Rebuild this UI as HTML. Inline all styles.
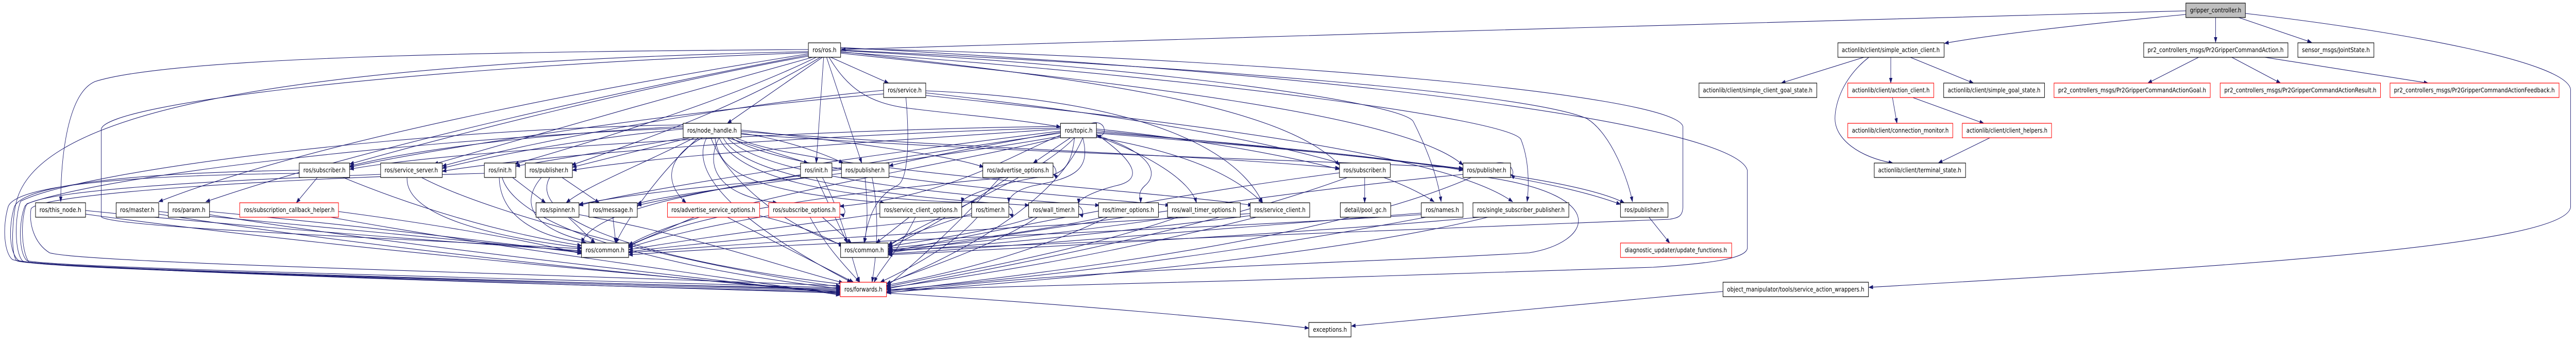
<!DOCTYPE html>
<html><head><meta charset="utf-8"><style>
html,body{margin:0;padding:0;background:#fff;width:100%;height:100%;overflow:hidden;}
svg{display:block;width:100vw;height:100vh;}
text{font-family:"DejaVu Sans","Liberation Sans",sans-serif;font-size:12px;fill:#000;}
.e{fill:none;stroke:#191970;stroke-width:1.1;}
</style></head><body>
<svg viewBox="0 0 6233 659" preserveAspectRatio="none" xmlns="http://www.w3.org/2000/svg">
<defs>
<marker id="a" markerWidth="11" markerHeight="8" refX="10" refY="4" orient="auto" markerUnits="userSpaceOnUse">
<path d="M0,0 L11,4 L0,8 z" fill="#191970"/></marker>
</defs>
<g class="e" marker-end="url(#a)">
<path d="M5289,21 C4500,40 3000,70 2036,96"/>
<path d="M5289,28 C5000,50 4800,70 4705,84"/>
<path d="M5361,34 L5361,82"/>
<path d="M5417,34 L5593,82"/>
<path d="M5433,26 C5800,60 6220,120 6220,175 L6220,400 C6220,480 5300,520 4522,557"/>
<path d="M1956,96 C1200,100 420,110 230,158 C165,180 147,300 147,391"/>
<path d="M1958,104 C1600,150 800,260 384,391"/>
<path d="M1960,106 C1600,160 900,280 498,391"/>
<path d="M1962,108 C1600,160 1100,260 846,318"/>
<path d="M1966,111 C1700,170 1300,260 1050,318"/>
<path d="M1975,111 C1800,180 1500,260 1245,318"/>
<path d="M1985,111 C1800,200 1600,260 1383,320"/>
<path d="M1990,111 L1760,239"/>
<path d="M1993,111 L1975,316"/>
<path d="M2000,111 L2085,316"/>
<path d="M2010,111 L2150,161"/>
<path d="M2006,111 C2050,170 2100,200 2200,210 C2350,225 2450,230 2566,246"/>
<path d="M2034,100 C2600,150 3100,200 3241,320"/>
<path d="M2034,103 C2700,160 3400,220 3540,320"/>
<path d="M2034,97 C2900,130 3700,180 3840,230 C3900,260 3940,350 3950,391"/>
<path d="M2034,98 C2800,130 3400,200 3420,236 C3460,300 3480,350 3487,391"/>
<path d="M2034,101 C2900,150 3650,230 3680,270 C3700,310 3700,360 3695,391"/>
<path d="M2034,94 C3000,110 4050,180 4072,245 L4072,400 C4072,420 4060,422 4040,425 C3600,440 2600,470 2150,485"/>
<path d="M2034,92 C3400,150 4200,250 4228,330 L4228,480 C4228,500 4150,510 4000,518 C3500,535 2700,550 2146,562"/>
<path d="M1956,100 C800,120 100,200 40,390 C30,420 25,490 40,505 C60,520 1200,545 2033,560"/>
<path d="M1956,102 C1000,130 260,200 245,250 L245,420 C260,440 900,460 1407,482"/>
<path d="M2138,175 C1800,200 1300,270 1070,322"/>
<path d="M2138,182 C1700,210 1100,280 846,324"/>
<path d="M2192,189 C2200,260 2200,350 2170,360 C2120,380 2100,420 2091,471"/>
<path d="M2240,176 C2800,195 3000,300 3055,393"/>
<path d="M2240,180 C2800,230 3300,300 3470,391"/>
<path d="M2240,185 C2900,240 3500,300 3660,391"/>
<path d="M1653,245 C1300,260 1000,290 846,322"/>
<path d="M1653,250 C1400,270 1200,300 1070,326"/>
<path d="M1660,267 L1248,322"/>
<path d="M1670,267 L1385,324"/>
<path d="M1680,267 C1550,320 1420,360 1370,393"/>
<path d="M1700,267 C1620,300 1600,350 1660,393"/>
<path d="M1740,267 C1700,330 1750,380 1880,393"/>
<path d="M1760,267 L1955,316"/>
<path d="M1793,258 C1900,270 2000,300 2040,316"/>
<path d="M1793,252 C2000,270 2300,300 2380,324"/>
<path d="M1730,267 C1740,330 1800,370 2140,393"/>
<path d="M1740,267 C1780,340 2000,385 2360,393"/>
<path d="M1750,267 C1800,350 2200,385 2490,398"/>
<path d="M1760,267 C1850,350 2400,385 2660,398"/>
<path d="M1770,267 C1900,340 2600,380 2830,398"/>
<path d="M1780,267 C1950,330 2800,370 3030,398"/>
<path d="M1793,255 C2400,290 2900,300 3241,326"/>
<path d="M1793,260 C2500,300 3200,310 3540,326"/>
<path d="M1690,267 C1600,330 1520,420 1490,471"/>
<path d="M1720,267 C1760,350 1900,440 2040,475"/>
<path d="M1710,267 C1650,360 1900,480 2060,547"/>
<path d="M1653,242 C1000,250 200,330 50,390 C35,420 35,490 55,506 C100,520 1300,545 2033,562"/>
<path d="M1653,248 C1000,270 250,340 65,395 C50,420 50,485 70,508 C120,522 1300,548 2033,564"/>
<path d="M2566,250 C2200,270 1600,300 1385,330"/>
<path d="M2566,256 C2400,280 2200,310 2151,322"/>
<path d="M2566,245 C2000,250 1100,290 846,328"/>
<path d="M2566,248 C2000,260 1300,300 1070,332"/>
<path d="M2590,267 L2500,316"/>
<path d="M2566,262 C2450,300 2300,380 2032,400"/>
<path d="M2600,267 C2590,330 2570,340 2500,345 C2400,360 2330,380 2327,393"/>
<path d="M2620,267 C2640,330 2600,345 2500,360 C2450,370 2441,385 2441,393"/>
<path d="M2653,260 C2760,320 2760,350 2700,360 C2650,370 2610,385 2610,395"/>
<path d="M2653,262 C2800,300 2800,340 2770,360 C2750,375 2760,385 2760,393"/>
<path d="M2653,264 C2780,300 2880,350 2895,393"/>
<path d="M2653,266 C2900,300 3000,350 3055,393"/>
<path d="M2653,250 C2900,270 3100,300 3241,328"/>
<path d="M2653,253 C3000,280 3400,310 3540,330"/>
<path d="M2653,256 C3200,290 3700,330 3921,396"/>
<path d="M2653,258 C3300,300 3800,340 3930,393"/>
<path d="M2566,266 C2300,320 1700,390 1521,475"/>
<path d="M2600,267 C2500,350 2250,420 2149,478"/>
<path d="M2620,267 C2550,400 2300,500 2145,550"/>
<path d="M2640,239 C2680,230 2680,270 2654,262"/>
<path d="M2566,258 C2200,300 1700,370 1542,398"/>
<path d="M2566,254 C2100,300 1600,360 1401,398"/>
<path d="M2566,264 C2100,330 1450,370 1407,471"/>
<path d="M768,344 L717,393"/>
<path d="M830,344 C1000,400 1200,450 1407,476"/>
<path d="M724,336 C300,340 40,360 20,400 C5,440 10,490 30,503 C80,520 1200,550 2033,566"/>
<path d="M724,330 C300,335 60,360 35,400 C20,440 22,490 45,505 C100,520 1200,548 2033,568"/>
<path d="M985,344 C980,420 1200,460 1407,480"/>
<path d="M1020,344 C1200,420 1700,520 2033,556"/>
<path d="M921,338 C500,350 80,370 60,400 C45,430 45,490 65,505 C120,520 1300,540 2033,558"/>
<path d="M1240,344 L1320,393"/>
<path d="M1208,344 C1210,420 1300,460 1420,471"/>
<path d="M1215,344 C1250,440 1600,520 2040,560"/>
<path d="M1172,336 C700,345 90,375 75,405 C70,430 80,470 120,490 C200,510 1300,530 2033,554"/>
<path d="M1360,344 L1450,393"/>
<path d="M1310,344 C1250,400 1300,450 1440,471"/>
<path d="M1330,344 C1270,430 1600,510 2050,552"/>
<path d="M1960,344 C1700,360 1500,380 1401,396"/>
<path d="M1975,344 L2050,471"/>
<path d="M1990,344 C2040,420 2060,500 2080,547"/>
<path d="M2036,336 C1800,360 1600,380 1542,395"/>
<path d="M2093,344 C2100,400 2100,440 2091,471"/>
<path d="M2110,344 C2130,420 2120,500 2110,547"/>
<path d="M2520,316 C2560,310 2560,345 2549,338"/>
<path d="M2440,344 C2300,420 2200,460 2149,482"/>
<path d="M2420,344 C2300,450 2200,520 2145,555"/>
<path d="M2548,336 C2200,360 1700,400 1521,478"/>
<path d="M3302,344 L3302,393"/>
<path d="M3241,335 C2800,380 2400,450 2149,488"/>
<path d="M3260,344 C2900,450 2400,520 2145,560"/>
<path d="M3620,316 C3665,310 3665,345 3656,338"/>
<path d="M3540,338 C3000,380 2500,450 2149,490"/>
<path d="M3560,344 C3200,470 2500,530 2145,565"/>
<path d="M3600,344 C3900,380 3850,470 3700,490 C3300,510 2600,520 2146,568"/>
<path d="M207,408 C600,440 1100,470 1407,486"/>
<path d="M207,415 C700,470 1500,530 2033,566"/>
<path d="M384,410 C800,440 1200,470 1407,488"/>
<path d="M384,415 C900,480 1500,530 2033,568"/>
<path d="M507,410 C900,440 1200,470 1407,490"/>
<path d="M507,416 C1000,480 1600,530 2033,570"/>
<path d="M819,410 C1100,440 1300,470 1407,492"/>
<path d="M800,421 C1200,480 1700,530 2033,572"/>
<path d="M1375,421 L1440,471"/>
<path d="M1401,416 C1700,460 1900,520 2040,548"/>
<path d="M1483,421 L1490,471"/>
<path d="M1680,421 L1521,476"/>
<path d="M1760,421 C1900,480 2000,520 2065,547"/>
<path d="M1838,418 C1950,440 2000,460 2040,478"/>
<path d="M2020,393 C2050,398 2050,420 2033,415"/>
<path d="M1990,421 L2060,471"/>
<path d="M1960,421 C2000,480 2050,520 2080,547"/>
<path d="M1860,418 C1700,440 1600,460 1521,480"/>
<path d="M2200,421 L2120,471"/>
<path d="M2215,421 C2180,480 2130,520 2115,547"/>
<path d="M2129,414 C1900,440 1700,460 1521,484"/>
<path d="M2420,393 C2455,398 2455,420 2442,415"/>
<path d="M2351,414 C2250,440 2180,460 2149,475"/>
<path d="M2365,421 C2300,480 2200,520 2130,547"/>
<path d="M2351,418 C2000,450 1700,470 1521,488"/>
<path d="M2590,393 C2625,398 2625,420 2611,415"/>
<path d="M2500,421 C2400,450 2200,470 2149,478"/>
<path d="M2510,421 C2400,480 2200,530 2145,550"/>
<path d="M2670,421 C2500,450 2300,470 2149,481"/>
<path d="M2680,421 C2500,490 2300,530 2145,553"/>
<path d="M2840,421 C2600,450 2300,475 2149,484"/>
<path d="M2850,421 C2600,490 2300,530 2145,556"/>
<path d="M3025,418 C2700,450 2400,475 2149,487"/>
<path d="M3040,421 C2700,490 2400,530 2145,558"/>
<path d="M3025,414 C2500,440 1900,465 1521,490"/>
<path d="M3439,413 C3000,440 2500,475 2149,492"/>
<path d="M3450,421 C3000,490 2500,540 2145,562"/>
<path d="M3439,416 C2800,450 1900,470 1521,494"/>
<path d="M3580,421 C3200,450 2500,480 2149,494"/>
<path d="M3600,421 C3200,500 2500,545 2145,567"/>
<path d="M3990,421 L4040,471"/>
<path d="M2145,568 C2600,590 3000,620 3167,636"/>
<path d="M4169,565 C3800,590 3400,620 3270,632"/>
<path d="M4510,111 L4310,161"/>
<path d="M4575,111 L4575,161"/>
<path d="M4622,111 L4775,161"/>
<path d="M4522,111 C4460,150 4440,200 4440,230 C4440,270 4500,305 4580,316"/>
<path d="M4579,189 L4590,239"/>
<path d="M4628,189 L4800,239"/>
<path d="M4815,267 L4690,316"/>
<path d="M5320,111 L5197,161"/>
<path d="M5400,111 L5518,161"/>
<path d="M5480,111 L5875,161"/>
</g>
<g stroke-width="1.2" fill="#fff">
<rect x="5289" y="6" width="144" height="28" fill="#bfbfbf" stroke="#000"/>
<rect x="1956" y="83" width="78" height="28" stroke="#000"/>
<rect x="4447" y="83" width="257" height="28" stroke="#000"/>
<rect x="5187" y="83" width="349" height="28" stroke="#000"/>
<rect x="5560" y="83" width="184" height="28" stroke="#000"/>
<rect x="2138" y="161" width="102" height="28" stroke="#000"/>
<rect x="4111" y="161" width="285" height="28" stroke="#000"/>
<rect x="4471" y="161" width="208" height="28" stroke="#f00"/>
<rect x="4703" y="161" width="244" height="28" stroke="#000"/>
<rect x="4970" y="161" width="378" height="28" stroke="#f00"/>
<rect x="5372" y="161" width="388" height="28" stroke="#f00"/>
<rect x="5783" y="161" width="409" height="28" stroke="#f00"/>
<rect x="1653" y="239" width="140" height="28" stroke="#000"/>
<rect x="2566" y="239" width="87" height="28" stroke="#000"/>
<rect x="4471" y="239" width="254" height="28" stroke="#f00"/>
<rect x="4748" y="239" width="216" height="28" stroke="#f00"/>
<rect x="724" y="316" width="122" height="28" stroke="#000"/>
<rect x="921" y="316" width="149" height="28" stroke="#000"/>
<rect x="1172" y="316" width="76" height="28" stroke="#000"/>
<rect x="1271" y="316" width="114" height="28" stroke="#000"/>
<rect x="1937" y="316" width="76" height="28" stroke="#000"/>
<rect x="2036" y="316" width="115" height="28" stroke="#000"/>
<rect x="2378" y="316" width="170" height="28" stroke="#000"/>
<rect x="3241" y="316" width="123" height="28" stroke="#000"/>
<rect x="3540" y="316" width="115" height="28" stroke="#000"/>
<rect x="4535" y="316" width="221" height="28" stroke="#000"/>
<rect x="86" y="393" width="121" height="28" stroke="#000"/>
<rect x="281" y="393" width="103" height="28" stroke="#000"/>
<rect x="407" y="393" width="100" height="28" stroke="#000"/>
<rect x="580" y="393" width="239" height="28" stroke="#f00"/>
<rect x="1297" y="393" width="104" height="28" stroke="#000"/>
<rect x="1425" y="393" width="117" height="28" stroke="#000"/>
<rect x="1615" y="393" width="223" height="28" stroke="#f00"/>
<rect x="1860" y="393" width="172" height="28" stroke="#f00"/>
<rect x="2129" y="393" width="198" height="28" stroke="#000"/>
<rect x="2351" y="393" width="90" height="28" stroke="#000"/>
<rect x="2489" y="393" width="121" height="28" stroke="#000"/>
<rect x="2658" y="393" width="145" height="28" stroke="#000"/>
<rect x="2825" y="393" width="176" height="28" stroke="#000"/>
<rect x="3025" y="393" width="144" height="28" stroke="#000"/>
<rect x="3243" y="393" width="122" height="28" stroke="#000"/>
<rect x="3439" y="393" width="101" height="28" stroke="#000"/>
<rect x="3564" y="393" width="232" height="28" stroke="#000"/>
<rect x="3921" y="393" width="115" height="28" stroke="#000"/>
<rect x="1407" y="471" width="114" height="28" stroke="#000"/>
<rect x="2034" y="471" width="115" height="28" stroke="#000"/>
<rect x="3921" y="471" width="269" height="28" stroke="#f00"/>
<rect x="2033" y="547" width="112" height="28" stroke="#f00"/>
<rect x="4169" y="547" width="352" height="28" stroke="#000"/>
<rect x="3167" y="625" width="102" height="28" stroke="#000"/>
</g>
<g text-anchor="middle">
<text x="5361" y="24" textLength="124" lengthAdjust="spacingAndGlyphs">gripper_controller.h</text>
<text x="1995" y="101" textLength="58" lengthAdjust="spacingAndGlyphs">ros/ros.h</text>
<text x="4575" y="101" textLength="237" lengthAdjust="spacingAndGlyphs">actionlib/client/simple_action_client.h</text>
<text x="5361" y="101" textLength="329" lengthAdjust="spacingAndGlyphs">pr2_controllers_msgs/Pr2GripperCommandAction.h</text>
<text x="5652" y="101" textLength="164" lengthAdjust="spacingAndGlyphs">sensor_msgs/JointState.h</text>
<text x="2189" y="179" textLength="82" lengthAdjust="spacingAndGlyphs">ros/service.h</text>
<text x="4253" y="179" textLength="265" lengthAdjust="spacingAndGlyphs">actionlib/client/simple_client_goal_state.h</text>
<text x="4575" y="179" textLength="188" lengthAdjust="spacingAndGlyphs">actionlib/client/action_client.h</text>
<text x="4825" y="179" textLength="224" lengthAdjust="spacingAndGlyphs">actionlib/client/simple_goal_state.h</text>
<text x="5159" y="179" textLength="358" lengthAdjust="spacingAndGlyphs">pr2_controllers_msgs/Pr2GripperCommandActionGoal.h</text>
<text x="5566" y="179" textLength="368" lengthAdjust="spacingAndGlyphs">pr2_controllers_msgs/Pr2GripperCommandActionResult.h</text>
<text x="5987" y="179" textLength="389" lengthAdjust="spacingAndGlyphs">pr2_controllers_msgs/Pr2GripperCommandActionFeedback.h</text>
<text x="1723" y="257" textLength="120" lengthAdjust="spacingAndGlyphs">ros/node_handle.h</text>
<text x="2610" y="257" textLength="67" lengthAdjust="spacingAndGlyphs">ros/topic.h</text>
<text x="4598" y="257" textLength="234" lengthAdjust="spacingAndGlyphs">actionlib/client/connection_monitor.h</text>
<text x="4856" y="257" textLength="196" lengthAdjust="spacingAndGlyphs">actionlib/client/client_helpers.h</text>
<text x="785" y="334" textLength="102" lengthAdjust="spacingAndGlyphs">ros/subscriber.h</text>
<text x="995" y="334" textLength="129" lengthAdjust="spacingAndGlyphs">ros/service_server.h</text>
<text x="1210" y="334" textLength="56" lengthAdjust="spacingAndGlyphs">ros/init.h</text>
<text x="1328" y="334" textLength="94" lengthAdjust="spacingAndGlyphs">ros/publisher.h</text>
<text x="1975" y="334" textLength="56" lengthAdjust="spacingAndGlyphs">ros/init.h</text>
<text x="2093" y="334" textLength="95" lengthAdjust="spacingAndGlyphs">ros/publisher.h</text>
<text x="2463" y="334" textLength="150" lengthAdjust="spacingAndGlyphs">ros/advertise_options.h</text>
<text x="3302" y="334" textLength="103" lengthAdjust="spacingAndGlyphs">ros/subscriber.h</text>
<text x="3597" y="334" textLength="95" lengthAdjust="spacingAndGlyphs">ros/publisher.h</text>
<text x="4645" y="334" textLength="201" lengthAdjust="spacingAndGlyphs">actionlib/client/terminal_state.h</text>
<text x="146" y="411" textLength="101" lengthAdjust="spacingAndGlyphs">ros/this_node.h</text>
<text x="332" y="411" textLength="83" lengthAdjust="spacingAndGlyphs">ros/master.h</text>
<text x="457" y="411" textLength="80" lengthAdjust="spacingAndGlyphs">ros/param.h</text>
<text x="700" y="411" textLength="219" lengthAdjust="spacingAndGlyphs">ros/subscription_callback_helper.h</text>
<text x="1349" y="411" textLength="84" lengthAdjust="spacingAndGlyphs">ros/spinner.h</text>
<text x="1483" y="411" textLength="97" lengthAdjust="spacingAndGlyphs">ros/message.h</text>
<text x="1726" y="411" textLength="203" lengthAdjust="spacingAndGlyphs">ros/advertise_service_options.h</text>
<text x="1946" y="411" textLength="152" lengthAdjust="spacingAndGlyphs">ros/subscribe_options.h</text>
<text x="2228" y="411" textLength="178" lengthAdjust="spacingAndGlyphs">ros/service_client_options.h</text>
<text x="2396" y="411" textLength="70" lengthAdjust="spacingAndGlyphs">ros/timer.h</text>
<text x="2550" y="411" textLength="101" lengthAdjust="spacingAndGlyphs">ros/wall_timer.h</text>
<text x="2730" y="411" textLength="125" lengthAdjust="spacingAndGlyphs">ros/timer_options.h</text>
<text x="2913" y="411" textLength="156" lengthAdjust="spacingAndGlyphs">ros/wall_timer_options.h</text>
<text x="3097" y="411" textLength="124" lengthAdjust="spacingAndGlyphs">ros/service_client.h</text>
<text x="3304" y="411" textLength="102" lengthAdjust="spacingAndGlyphs">detail/pool_gc.h</text>
<text x="3490" y="411" textLength="81" lengthAdjust="spacingAndGlyphs">ros/names.h</text>
<text x="3680" y="411" textLength="212" lengthAdjust="spacingAndGlyphs">ros/single_subscriber_publisher.h</text>
<text x="3978" y="411" textLength="95" lengthAdjust="spacingAndGlyphs">ros/publisher.h</text>
<text x="1464" y="489" textLength="94" lengthAdjust="spacingAndGlyphs">ros/common.h</text>
<text x="2091" y="489" textLength="95" lengthAdjust="spacingAndGlyphs">ros/common.h</text>
<text x="4055" y="489" textLength="247" lengthAdjust="spacingAndGlyphs">diagnostic_updater/update_functions.h</text>
<text x="2089" y="565" textLength="92" lengthAdjust="spacingAndGlyphs">ros/forwards.h</text>
<text x="4345" y="565" textLength="332" lengthAdjust="spacingAndGlyphs">object_manipulator/tools/service_action_wrappers.h</text>
<text x="3218" y="643" textLength="82" lengthAdjust="spacingAndGlyphs">exceptions.h</text>
</g>
</svg>
</body></html>
